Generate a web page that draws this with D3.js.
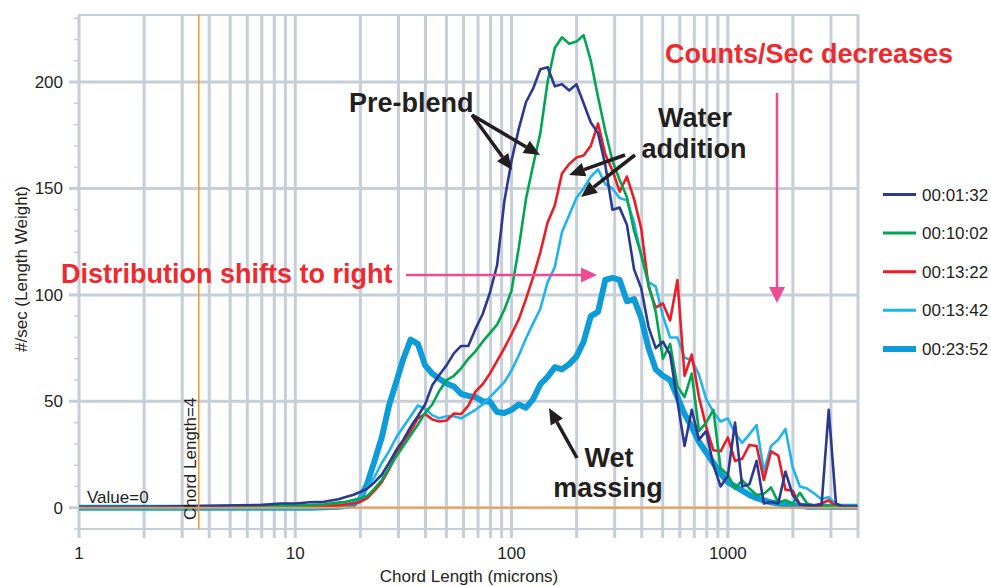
<!DOCTYPE html>
<html>
<head>
<meta charset="utf-8">
<script src="https://cdn.jsdelivr.net/npm/d3@7"></script>
<style>
body { margin: 0; background: #fff; }
svg text { font-family: "Liberation Sans", Arial, Helvetica, sans-serif; }
</style>
</head>
<body>
<script>
// chord length bins (microns)
var chordLength = [1, 2.154, 4.642, 6.813, 8.577, 10, 11.66, 13.59,
  15.85, 17.11, 18.48, 19.95, 21.54, 23.26, 25.12, 27.13, 29.29, 31.62,
  34.15, 36.87, 39.81, 42.99, 46.42, 50.12, 54.12, 58.48, 63.10, 68.13,
  73.56, 79.43, 85.77, 92.62, 100, 108.0, 116.6, 125.9, 135.9, 146.8,
  158.5, 171.1, 184.8, 199.5, 215.4, 232.6, 251.2, 271.3, 292.9, 316.2,
  341.5, 368.7, 398.1, 429.9, 464.2, 501.2, 541.2, 584.8, 631.0, 681.3,
  735.6, 794.3, 857.7, 926.2, 1000, 1080, 1166, 1259, 1359, 1468,
  1585, 1711, 1848, 1995, 2154, 2326, 2512, 2713, 2929, 3162,
  3415, 3687, 3981];

var seriesNames = ['00:01:32', '00:10:02', '00:13:22', '00:13:42', '00:23:52'];

var t0132 = [0.3, 0.4, 1.0, 1.3, 2.0, 2.0, 2.6, 2.8,
  4.0, 5.0, 6.0, 7.4, 9.0, 12, 15.5, 21, 27, 32,
  38, 43, 48.5, 57.5, 62.5, 67, 72.5, 76, 76, 84,
  91, 101, 114, 144, 163, 178, 190.5, 197, 206, 207,
  198, 199, 196, 199, 190, 181, 176, 161, 140, 141,
  133, 112, 103, 85, 75, 78, 72, 50, 29, 46,
  32, 36, 20, 10, 15, 40, 10, 11, 22, 2,
  2.7, 2, 17, 6, 1.5, 1.2, 1, 1.2, 46, 2,
  0.5, 0.5, 0.5];

var t1002 = [0.3, 0.3, 0.5, 0.8, 1.0, 1.0, 1.2, 1.6,
  2.4, 2.8, 3.6, 4.3, 5.5, 9, 13, 18.5, 24, 29,
  34, 39, 44.5, 48.5, 55, 60, 62, 65.5, 70, 73.5,
  78, 82, 86, 93, 102, 122, 145, 161, 176, 200,
  216, 221, 218, 219, 222, 210, 193, 177, 163, 154,
  146, 130, 119, 105, 92, 70, 77, 57, 52, 63,
  36, 40, 46, 18.5, 15.5, 9, 13, 9, 6, 6.5,
  9.5, 2.5, 3.5, 2, 7, 2, 1, 1, 1, 0.5,
  0.5, 0.5, 0.5];

var t1322 = [0, 0.1, 0.2, 0.3, 0.4, 0.5, 0.6, 0.8,
  1.0, 1.5, 2.0, 2.7, 4.5, 8, 12, 18, 25, 31,
  36, 42, 44, 41.5, 40.5, 41, 44.3, 44, 48, 54.5,
  58, 63, 69, 75, 81.5, 88.5, 98, 108.5, 120, 134,
  142, 157, 161.5, 164.5, 165.5, 170, 180.5, 166, 158.5, 148.5,
  155.6, 145, 131, 104, 94, 96, 88, 107, 62, 72,
  52, 38, 27, 26.5, 33, 22, 23, 29.5, 29, 13,
  26.5, 24.5, 8.5, 8, 1.5, 1, 1, 2, 3.5, 0.5,
  0.3, 0.3, 0.3];

var t1342 = [-0.3, -0.3, -0.3, -0.3, -0.3, -0.3, -0.2, 0,
  0.5, 1, 2, 5, 9.5, 14.5, 21, 26.5, 33, 38,
  43, 48, 46.5, 43.5, 42, 43, 43, 42, 44, 46,
  48.5, 52, 55.5, 59, 64.5, 71.5, 79.5, 86.6, 93.5, 106,
  113, 129.5, 137.5, 145.5, 150, 155.5, 159, 152, 150, 145.5,
  144.5, 134, 118, 106, 104, 90, 80, 80, 70.5, 69.4,
  62.5, 51, 45, 40.5, 42, 35, 30.5, 34.5, 38.8, 17,
  29, 32, 37, 19, 10, 9, 6.7, 4, 5, 1.5,
  0, 0, 0];

var t2352 = [0, 0, 0, 0, 0, 0, 0, 0.2,
  0.5, 0.8, 1.5, 4, 11.5, 22, 33, 48, 59, 70,
  79, 77, 67, 63, 60.5, 58.4, 57, 53.5, 52.5, 52,
  50, 49.8, 45, 44.5, 46, 48.5, 47, 51, 58, 61.5,
  66, 65, 67.5, 71, 78, 90, 92, 107, 108, 107,
  97, 98, 89, 75, 65, 62, 60, 52, 44, 38,
  31, 26, 21, 16, 12, 10, 8, 6, 4.5, 3.5,
  2.5, 2, 1.5, 1, 1, 0.5, 0.5, 0.5, 0.5, 0.5,
  0.5, 0.5, 0.5];

var xTickLabels = [1, 10, 100, 1000];
var yTickValues = [0, 50, 100, 150, 200];
var chordMarker = 3.58;   // where the "Chord Length=4" cursor sits
var valueMarker = 0;

var width = 991, height = 586;
var plotLeft = 79, plotRight = 858, plotTop = 15, plotBottom = 529;
var gridColor = '#c6ced8';

var x = d3.scaleLog().domain([1, 4000]).range([plotLeft, plotRight]);
var y = d3.scaleLinear().domain([-10, 231.5]).range([plotBottom, plotTop]);

var svg = d3.select('body').append('svg')
    .attr('width', width)
    .attr('height', height);

// vertical grid (every 1..9 of each decade)
svg.append('g').selectAll('line')
    .data(x.ticks())
    .enter().append('line')
    .attr('x1', function (d) { return x(d); })
    .attr('x2', function (d) { return x(d); })
    .attr('y1', plotTop)
    .attr('y2', plotBottom + 9)
    .attr('stroke', gridColor)
    .attr('stroke-width', 3);

// minor y ticks
svg.append('g').selectAll('line')
    .data(y.ticks(24))
    .enter().append('line')
    .attr('x1', plotLeft - 5).attr('x2', plotLeft)
    .attr('y1', function (d) { return y(d); })
    .attr('y2', function (d) { return y(d); })
    .attr('stroke', gridColor)
    .attr('stroke-width', 1.5);

// horizontal grid
svg.append('g').selectAll('line')
    .data(yTickValues)
    .enter().append('line')
    .attr('x1', plotLeft - 10).attr('x2', plotRight)
    .attr('y1', function (d) { return y(d); })
    .attr('y2', function (d) { return y(d); })
    .attr('stroke', gridColor)
    .attr('stroke-width', 3);

// frame
svg.append('rect')
    .attr('x', plotLeft).attr('y', plotTop)
    .attr('width', plotRight - plotLeft).attr('height', plotBottom - plotTop)
    .attr('fill', 'none')
    .attr('stroke', gridColor)
    .attr('stroke-width', 2);

// tick labels
svg.append('g').selectAll('text')
    .data(yTickValues)
    .enter().append('text')
    .attr('x', 63)
    .attr('y', function (d) { return y(d) + 6; })
    .attr('text-anchor', 'end')
    .attr('font-size', 17)
    .attr('fill', '#231f20')
    .text(function (d) { return d; });

svg.append('g').selectAll('text')
    .data(xTickLabels)
    .enter().append('text')
    .attr('x', function (d) { return x(d); })
    .attr('y', 559)
    .attr('text-anchor', 'middle')
    .attr('font-size', 17)
    .attr('fill', '#231f20')
    .text(function (d) { return d; });

svg.append('text')
    .attr('x', 469).attr('y', 582)
    .attr('text-anchor', 'middle')
    .attr('font-size', 17)
    .attr('fill', '#231f20')
    .text('Chord Length (microns)');

svg.append('text')
    .attr('transform', 'translate(27,269) rotate(-90)')
    .attr('text-anchor', 'middle')
    .attr('font-size', 17)
    .attr('fill', '#231f20')
    .text('#/sec (Length Weight)');

// series
var series = [
  { name: seriesNames[4], values: t2352, color: '#0e9cd8', width: 6 },
  { name: seriesNames[3], values: t1342, color: '#1fb4ec', width: 2.6 },
  { name: seriesNames[2], values: t1322, color: '#ed1c24', width: 2.6 },
  { name: seriesNames[1], values: t1002, color: '#00a651', width: 2.6 },
  { name: seriesNames[0], values: t0132, color: '#2b3990', width: 2.6 }
];

var line = d3.line()
    .x(function (d) { return x(d[0]); })
    .y(function (d) { return y(d[1]); });

svg.append('g').selectAll('path')
    .data(series)
    .enter().append('path')
    .attr('d', function (s) { return line(d3.zip(chordLength, s.values)); })
    .attr('fill', 'none')
    .attr('stroke', function (s) { return s.color; })
    .attr('stroke-width', function (s) { return s.width; })
    .attr('stroke-linejoin', 'round');

// orange cursors
svg.append('line')
    .attr('x1', x(chordMarker)).attr('x2', x(chordMarker))
    .attr('y1', plotTop).attr('y2', plotBottom)
    .attr('stroke', '#f7941d').attr('stroke-width', 1.5);
svg.append('line')
    .attr('x1', plotLeft).attr('x2', plotRight)
    .attr('y1', y(valueMarker)).attr('y2', y(valueMarker))
    .attr('stroke', '#eea152').attr('stroke-width', 2);

svg.append('text')
    .attr('transform', 'translate(' + (x(chordMarker) - 3) + ',520) rotate(-90)')
    .attr('font-size', 17)
    .attr('fill', '#231f20')
    .text('Chord Length=4');
svg.append('text')
    .attr('x', 87).attr('y', 503)
    .attr('font-size', 17)
    .attr('fill', '#231f20')
    .text('Value=0');

// annotations
function arrow(x1, y1, x2, y2, color, w, headLen, headW) {
    var a = Math.atan2(y2 - y1, x2 - x1);
    var bx = x2 - headLen * Math.cos(a), by = y2 - headLen * Math.sin(a);
    var px = -Math.sin(a) * headW / 2, py = Math.cos(a) * headW / 2;
    svg.append('line')
        .attr('x1', x1).attr('y1', y1).attr('x2', bx).attr('y2', by)
        .attr('stroke', color).attr('stroke-width', w);
    svg.append('path')
        .attr('d', 'M' + x2 + ',' + y2 + 'L' + (bx + px) + ',' + (by + py) + 'L' + (bx - px) + ',' + (by - py) + 'Z')
        .attr('fill', color);
}

function label(txt, tx, ty, color, anchor) {
    svg.append('text')
        .attr('x', tx).attr('y', ty)
        .attr('text-anchor', anchor || 'start')
        .attr('font-size', 27)
        .attr('font-weight', 'bold')
        .attr('fill', color)
        .text(txt);
}

var red = '#ee2a2e', pink = '#ec4c96', ink = '#231f20';

label('Counts/Sec decreases', 665, 63, red);
arrow(777, 93, 777, 303, pink, 2.5, 16, 16);

label('Distribution shifts to right', 61, 283, red);
arrow(406, 275, 597, 275, pink, 2.5, 16, 15);

label('Pre-blend', 349, 112, ink);
arrow(472, 115, 540, 155, ink, 3.5, 16, 14);
arrow(472, 115, 512, 170, ink, 3.5, 16, 14);

label('Water', 695, 127, ink, 'middle');
label('addition', 694, 158, ink, 'middle');
arrow(625, 155, 569, 175, ink, 3.5, 16, 14);
arrow(635, 155, 581, 197, ink, 3.5, 16, 14);

label('Wet', 609, 467, ink, 'middle');
label('massing', 608, 497, ink, 'middle');
arrow(577, 458, 549, 408, ink, 3.5, 16, 14);

// legend
var legend = svg.append('g').selectAll('g')
    .data(seriesNames)
    .enter().append('g')
    .attr('transform', function (d, i) { return 'translate(0,' + (194.5 + i * 38.6) + ')'; });

legend.append('line')
    .attr('x1', 883).attr('x2', 916)
    .attr('stroke', function (d) { return series.find(function (s) { return s.name === d; }).color; })
    .attr('stroke-width', function (d, i) { return i === 4 ? 6 : 3; });

legend.append('text')
    .attr('x', 922).attr('y', 6)
    .attr('font-size', 17)
    .attr('fill', '#231f20')
    .text(function (d) { return d; });
</script>
</body>
</html>
